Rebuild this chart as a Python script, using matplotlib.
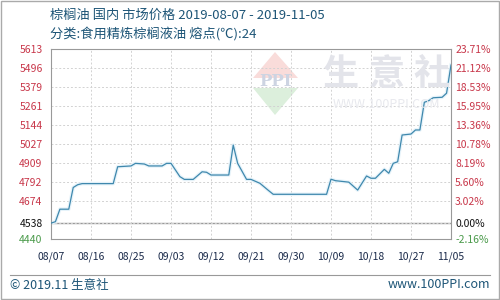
import numpy as np
import matplotlib
matplotlib.use("Agg")
import matplotlib.pyplot as plt
import matplotlib.dates as mdates
from matplotlib.patches import Polygon

plt.rcParams['font.family'] = ['Noto Sans CJK SC', 'DejaVu Sans']

# price series (yuan/ton)
dates = ["2019-08-07", "2019-08-08", "2019-08-09", "2019-08-11", "2019-08-12", "2019-08-13",
         "2019-08-14", "2019-08-21", "2019-08-22", "2019-08-25", "2019-08-26", "2019-08-28",
         "2019-08-29", "2019-09-01", "2019-09-02", "2019-09-03", "2019-09-05", "2019-09-06",
         "2019-09-08", "2019-09-10", "2019-09-11", "2019-09-12", "2019-09-16", "2019-09-17",
         "2019-09-18", "2019-09-20", "2019-09-21", "2019-09-23", "2019-09-25", "2019-09-26",
         "2019-10-08", "2019-10-09", "2019-10-10", "2019-10-13", "2019-10-15", "2019-10-17",
         "2019-10-18", "2019-10-19", "2019-10-21", "2019-10-22", "2019-10-23", "2019-10-24",
         "2019-10-25", "2019-10-27", "2019-10-28", "2019-10-29", "2019-10-30", "2019-10-31",
         "2019-11-01", "2019-11-03", "2019-11-04", "2019-11-05"]
prices = [4538, 4547, 4624, 4624, 4758, 4775,
          4782, 4782, 4886, 4891, 4907, 4903,
          4891, 4891, 4907, 4907, 4825, 4808,
          4808, 4855, 4852, 4835, 4835, 5020,
          4907, 4808, 4808, 4784, 4738, 4716,
          4716, 4809, 4800, 4791, 4742, 4829,
          4815, 4815, 4870, 4846, 4907, 4917,
          5082, 5088, 5113, 5113, 5284, 5294,
          5312, 5315, 5340, 5514]

base_price = 4538
left_ticks = [4440, 4538, 4674, 4792, 4909, 5027, 5144, 5261, 5379, 5496, 5613]
right_labels = ["-2.16%", "0.00%", "3.02%", "5.60%", "8.19%", "10.78%", "13.36%",
                "15.95%", "18.53%", "21.12%", "23.71%"]
x_ticks = ["2019-08-07", "2019-08-16", "2019-08-25", "2019-09-03", "2019-09-12", "2019-09-21",
           "2019-09-30", "2019-10-09", "2019-10-18", "2019-10-27", "2019-11-05"]

title1 = "棕榈油 国内 市场价格 2019-08-07 - 2019-11-05"
title2 = "分类:食用精炼棕榈液油 熔点(℃):24"

red = '#c8374a'
green = '#4a9a4a'
txt_blue = '#1d5577'

fig = plt.figure(figsize=(5, 3), dpi=100)
W, H = 500, 300


def px(x, y):
    return x / W, 1 - y / H


# outer frame
fig.patches.append(plt.Rectangle((0.001, 0.002), 0.997, 0.995, transform=fig.transFigure,
                                 fill=False, edgecolor='#aaaaaa', lw=1))

ax = fig.add_axes([51 / W, 61 / H, 400 / W, 190 / H])

# watermark
diamond_top = Polygon([px(253, 78), px(275, 52), px(298, 78)], closed=True,
                      transform=fig.transFigure, color='#f9dcda', lw=0, zorder=0)
diamond_bot = Polygon([px(253, 88), px(298, 88), px(275, 115)], closed=True,
                      transform=fig.transFigure, color='#dcefdc', lw=0, zorder=0)
ax.add_patch(diamond_top)
ax.add_patch(diamond_bot)
fig.text(*px(275, 82), "PPI", ha='center', va='center', fontsize=12, fontweight='bold',
         color='#cdd4e2', family='DejaVu Serif', zorder=0)
for cx, ch in zip([341, 387, 432], "生意社"):
    fig.text(*px(cx, 74), ch, ha='center', va='center', fontsize=26, fontweight='bold',
             color='#e3e4ea', zorder=0)
fig.text(*px(386, 105), "WWW.100PPI.COM", ha='center', va='center', fontsize=9,
         color='#e8e9ee', zorder=0)

xd = np.array(dates, dtype='datetime64[D]')
ax.plot(xd, prices, color='#e6f3fa', lw=2.6, zorder=2, solid_joinstyle='round')
ax.plot(xd, prices, color='#3f88ad', lw=0.9, zorder=3)

ax.set_ylim(left_ticks[0], left_ticks[-1])
ax.set_xlim(np.datetime64(x_ticks[0]), np.datetime64(x_ticks[-1]))
ax.set_yticks(left_ticks)
ax.set_xticks(np.array(x_ticks, dtype='datetime64[D]'))
ax.xaxis.set_major_formatter(mdates.DateFormatter('%m/%d'))
ax.set_facecolor('none')
ax.grid(True, color='#d2d2d2', ls=(0, (2, 2)), lw=0.7)
ax.axhline(base_price, color='#999999', lw=1, zorder=1)
for s in ax.spines.values():
    s.set_color('#999999')
ax.tick_params(length=0, labelsize=7.5)
ax.tick_params(axis='x', pad=9, colors='#1a2a4a')
ax.tick_params(axis='y', pad=6)
for lab, v in zip(ax.get_yticklabels(), left_ticks):
    lab.set_color(red if v > base_price else ('#111111' if v == base_price else green))

ax2 = ax.twinx()
ax2.set_ylim(ax.get_ylim())
ax2.set_yticks(left_ticks)
ax2.set_yticklabels(right_labels)
ax2.tick_params(length=0, labelsize=7.5, pad=3)
for s in ax2.spines.values():
    s.set_visible(False)
for lab, v in zip(ax2.get_yticklabels(), left_ticks):
    lab.set_color(red if v > base_price else ('#111111' if v == base_price else green))

fig.text(*px(50, 15), title1, ha='left', va='center', fontsize=9.5, color=txt_blue)
fig.text(*px(50, 34), title2, ha='left', va='center', fontsize=9.5, color=txt_blue)

fig.add_artist(plt.Line2D([10 / W, 490 / W], [1 - 275 / H, 1 - 275 / H],
                          transform=fig.transFigure, color='#999999', lw=0.8))
fig.text(*px(10, 285), "© 2019.11 生意社", ha='left', va='center', fontsize=9, color=txt_blue)
fig.text(*px(490, 285), "www.100PPI.com", ha='right', va='center', fontsize=9, color=txt_blue)

fig.savefig("out.png", dpi=100)
